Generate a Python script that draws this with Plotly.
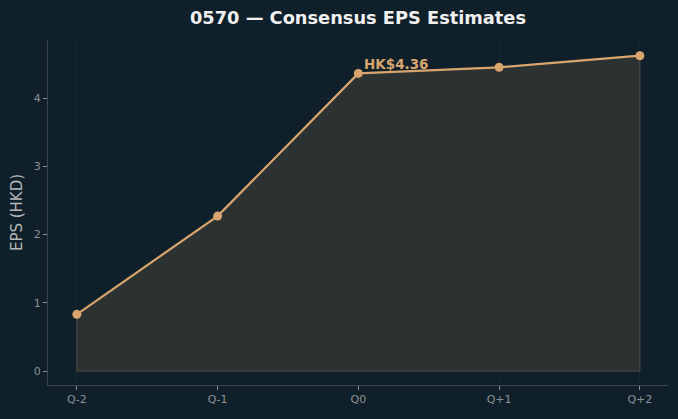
import plotly.graph_objects as go

quarters = ["Q-2", "Q-1", "Q0", "Q+1", "Q+2"]
eps = [0.83, 2.27, 4.36, 4.45, 4.62]
label_idx = 2
label_text = "HK$4.36"

bg = "#10202a"
line_c = "#d9a56f"
x = list(range(len(quarters)))

poly_x = x + [x[-1], x[0], x[0]]
poly_y = eps + [0, 0, eps[0]]

fig = go.Figure()
fig.add_trace(go.Scatter(x=poly_x, y=poly_y, mode="lines", fill="toself",
                         fillcolor="rgba(62,60,54,0.62)",
                         line=dict(color="rgba(95,92,80,0.7)", width=1),
                         hoverinfo="skip", showlegend=False))
fig.add_trace(go.Scatter(x=x, y=eps, mode="lines+markers",
                         line=dict(color=line_c, width=2.2),
                         marker=dict(size=9, color=line_c), showlegend=False))
fig.add_annotation(x=x[label_idx], y=eps[label_idx], text="<b>" + label_text + "</b>",
                   showarrow=False, xanchor="left", yanchor="bottom",
                   xshift=4, yshift=-1, font=dict(color=line_c, size=13.5, family="DejaVu Sans"))

fig.update_layout(
    width=678, height=419,
    paper_bgcolor=bg, plot_bgcolor=bg,
    margin=dict(l=48, r=10, t=40, b=34),
    title=dict(text="<b>0570 — Consensus EPS Estimates</b>", x=0.5, xref="paper", xanchor="center",
               y=0.957, yanchor="middle", font=dict(size=17.8, color="#f0f0f0", family="DejaVu Sans")),
    font=dict(family="DejaVu Sans", color="#8a9296", size=11),
)
fig.update_xaxes(range=[-0.205, 4.2], tickvals=x, ticktext=quarters, automargin=False,
                 showline=True, linecolor="#3c474c", linewidth=1,
                 ticks="outside", ticklen=4, tickcolor="#8a8f92",
                 showgrid=True, gridcolor="rgba(255,255,255,0.025)", zeroline=False,
                 tickfont=dict(size=11, color="#8a9296"))
fig.update_yaxes(range=[-0.205, 4.85], tickvals=[0, 1, 2, 3, 4], automargin=False,
                 showline=True, linecolor="#3c474c", linewidth=1,
                 ticks="outside", ticklen=4, tickcolor="#8a8f92",
                 showgrid=True, gridcolor="rgba(255,255,255,0.025)", zeroline=False,
                 title=dict(text="EPS (HKD)", font=dict(size=15, color="#b4b8ba"), standoff=7),
                 tickfont=dict(size=11, color="#8a9296"))

fig.write_html("out.html")
